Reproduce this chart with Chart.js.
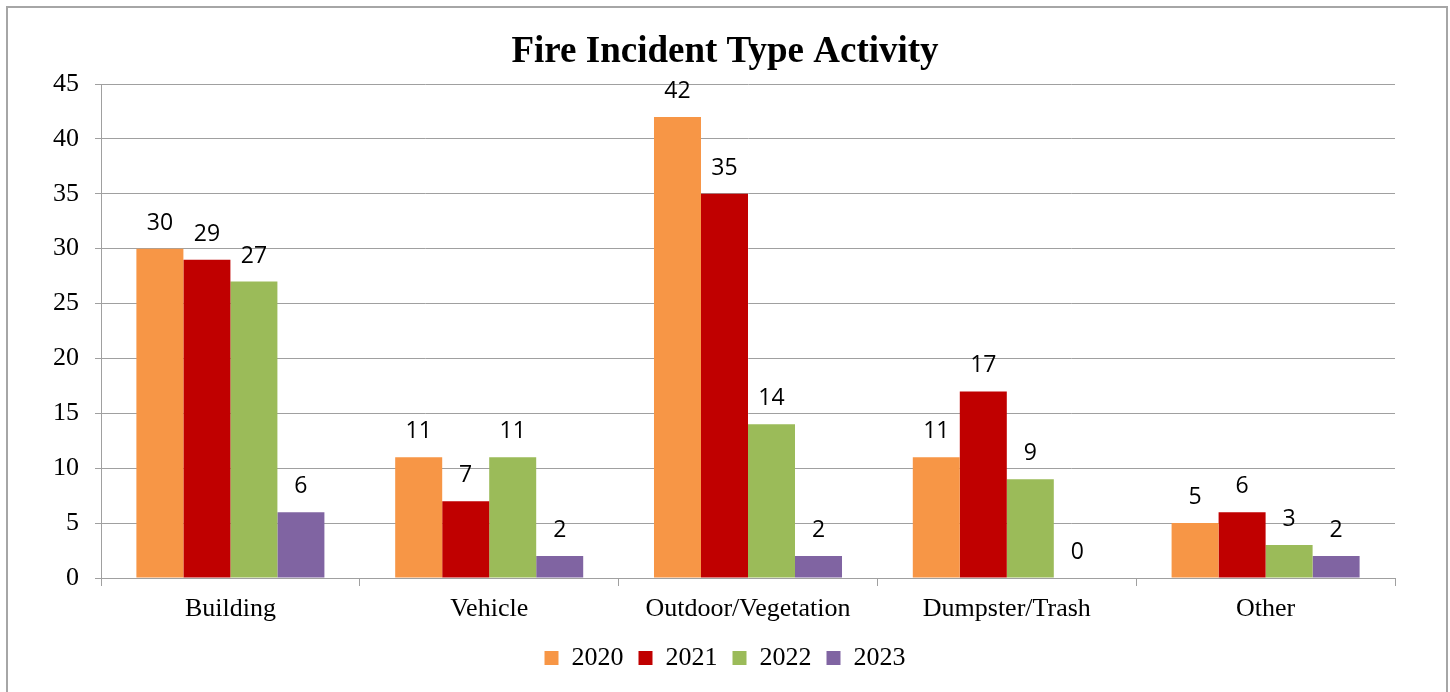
<!DOCTYPE html>
<html>
<head>
<meta charset="utf-8">
<script src="https://cdn.jsdelivr.net/npm/chart.js@4.4.1/dist/chart.umd.min.js"></script>
<style>
html,body{margin:0;padding:0;background:#fff;}
#wrap{position:absolute;left:0;top:0;width:1450px;height:692px;}
</style>
</head>
<body>
<div id="wrap"><canvas id="c" width="1450" height="692"></canvas></div>
<script>
const categories = ['Building', 'Vehicle', 'Outdoor/Vegetation', 'Dumpster/Trash', 'Other'];
const seriesNames = ['2020', '2021', '2022', '2023'];
const values2020 = [30, 11, 42, 11, 5];
const values2021 = [29, 7, 35, 17, 6];
const values2022 = [27, 11, 14, 9, 3];
const values2023 = [6, 2, 2, 0, 2];
const yMin = 0, yMax = 45, yStep = 5;
const titleText = 'Fire Incident Type Activity';

const colors = ['#f79646', '#c00000', '#9bbb59', '#8064a2'];
const serif = "'Liberation Serif', 'Times New Roman', serif";
const gridColor = '#a0a0a0';

const frame = {
  id: 'frame',
  beforeDraw(chart) {
    const ctx = chart.ctx;
    ctx.save();
    ctx.fillStyle = '#fff';
    ctx.fillRect(0, 0, chart.width, chart.height);
    ctx.strokeStyle = '#a6a6a6';
    ctx.lineWidth = 2;
    ctx.strokeRect(7, 7, 1440, 700);
    ctx.restore();
  }
};

const valueLabels = {
  id: 'valueLabels',
  afterDatasetsDraw(chart) {
    const ctx = chart.ctx;
    ctx.save();
    ctx.font = "23px 'Open Sans', 'Liberation Sans', sans-serif";
    ctx.fillStyle = '#000';
    ctx.textAlign = 'center';
    ctx.textBaseline = 'alphabetic';
    chart.data.datasets.forEach((ds, di) => {
      const meta = chart.getDatasetMeta(di);
      meta.data.forEach((bar, i) => {
        ctx.fillText(String(ds.data[i]), bar.x, bar.y - 19);
      });
    });
    ctx.restore();
  }
};

const allSeries = [values2020, values2021, values2022, values2023];

new Chart(document.getElementById('c'), {
  type: 'bar',
  data: {
    labels: categories,
    datasets: allSeries.map((vals, i) => ({
      label: seriesNames[i],
      data: vals,
      backgroundColor: colors[i],
      borderWidth: 0,
      categoryPercentage: 0.7265,
      barPercentage: 1.0
    }))
  },
  options: {
    responsive: false,
    animation: false,
    devicePixelRatio: 1,
    layout: { padding: { left: 0, right: 0, top: 10, bottom: 11 } },
    plugins: {
      title: {
        display: true,
        text: titleText,
        color: '#000',
        font: { family: serif, size: 37, weight: 'bold', lineHeight: 1.2 },
        padding: { top: 20, bottom: 9.6 }
      },
      legend: {
        display: true,
        position: 'bottom',
        labels: {
          boxWidth: 14,
          boxHeight: 14,
          padding: 15,
          color: '#000',
          font: { family: serif, size: 26 }
        }
      },
      tooltip: { enabled: false }
    },
    scales: {
      x: {
        grid: {
          display: true,
          drawOnChartArea: false,
          drawTicks: true,
          tickLength: 8,
          color: gridColor,
          offset: true
        },
        border: { display: true, color: gridColor, width: 1 },
        ticks: {
          color: '#000',
          padding: 8,
          font: { family: serif, size: 26 },
          maxRotation: 0,
          autoSkip: false
        },
        afterFit(scale) { scale.height = 52; }
      },
      y: {
        min: yMin,
        max: yMax,
        grid: {
          color: gridColor,
          tickLength: 6,
          drawTicks: true
        },
        border: { display: true, color: gridColor, width: 1 },
        ticks: {
          stepSize: yStep,
          color: '#000',
          padding: 16,
          font: { family: serif, size: 26 }
        },
        afterFit(scale) { scale.width = 101; }
      },
      ySpacer: {
        type: 'linear',
        position: 'right',
        display: true,
        grid: { display: false, drawOnChartArea: false },
        border: { display: false },
        ticks: { display: false },
        afterFit(scale) { scale.width = 55; }
      }
    }
  },
  plugins: [frame, valueLabels]
});
</script>
</body>
</html>
